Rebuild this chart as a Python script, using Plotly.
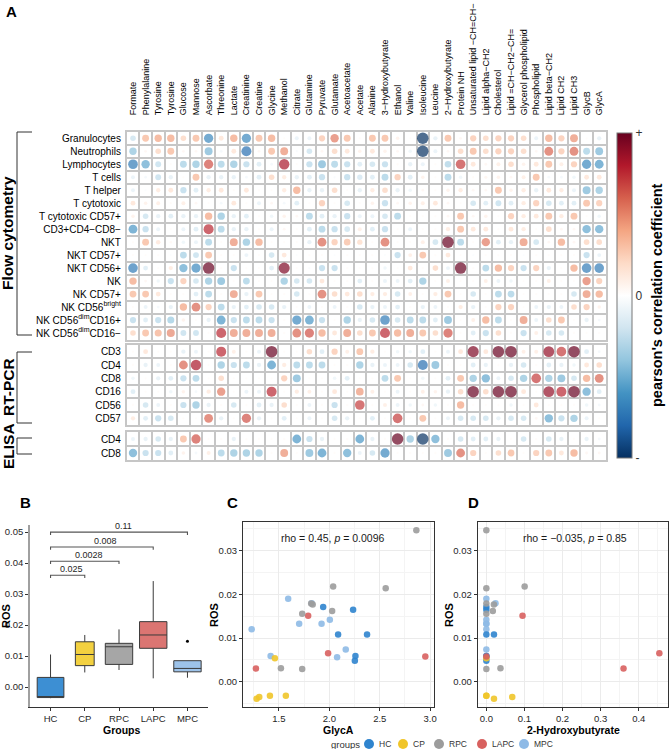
import plotly.graph_objects as go

W, H = 669, 749
FONT = "Liberation Sans, Arial, Helvetica, sans-serif"

# ---------------- Panel A : correlation matrix ----------------
metabolites = ["Formate", "Phenylalanine", "Tyrosine", "Tyrosine", "Glucose", "Mannose",
               "Ascorbate", "Threonine", "Lactate", "Creatinine", "Creatine", "Glycine",
               "Methanol", "Citrate", "Glutamine", "Pyruvate", "Glutamate", "Acetoacetate",
               "Acetate", "Alanine", "3−Hydroxybutyrate", "Ethanol", "Valine", "Isoleucine",
               "Leucine", "2−Hydroxybutyrate", "Protein NH", "Unsaturated lipid −CH=CH−",
               "Lipid alpha−CH2", "Cholesterol", "Lipid =CH−CH2−CH=", "Glycerol phospholipid",
               "Phospholipid", "Lipid beta−CH2", "Lipid CH2", "Lipid CH3", "GlycB", "GlycA"]

flow_cells = ["Granulocytes", "Neutrophils", "Lymphocytes", "T cells", "T helper", "T cytotoxic",
              "T cytotoxic CD57+", "CD3+CD4−CD8−", "NKT", "NKT CD57+", "NKT CD56+", "NK",
              "NK CD57+", "NK CD56<sup>bright</sup>", "NK CD56<sup>dim</sup>CD16+",
              "NK CD56<sup>dim</sup>CD16−"]
flow_r = [
    [-0.20, 0.30, 0.35, 0.35, 0.20, 0.30, -0.55, 0.15, 0.35, -0.55, 0.30, 0.35, 0.02, -0.10, -0.10, 0.25, 0.45, 0.30, 0.03, 0.30, 0.30, 0.08, 0.02, -0.90, -0.12, 0.30, 0.05, 0.25, 0.20, 0.25, 0.25, 0.20, -0.10, 0.35, 0.25, 0.40, 0.02, -0.12],
    [-0.35, 0.05, 0.20, 0.30, 0.05, 0.05, -0.40, -0.05, 0.15, -0.65, 0.05, 0.30, 0.40, -0.03, -0.20, 0.05, 0.20, 0.15, 0.08, 0.15, 0.08, 0.05, -0.08, -0.90, -0.10, 0.05, 0.20, 0.30, 0.20, 0.25, 0.25, 0.20, 0.05, 0.50, 0.25, 0.50, -0.30, -0.40],
    [-0.60, -0.45, -0.22, 0.02, -0.30, -0.35, 0.55, -0.30, -0.35, -0.25, -0.15, -0.05, 0.70, 0.02, -0.25, -0.40, -0.30, -0.25, -0.15, -0.20, -0.25, 0.03, -0.12, -0.10, 0.02, -0.28, 0.60, 0.15, 0.05, 0.10, 0.20, 0.08, 0.15, 0.30, 0.10, 0.25, -0.55, -0.50],
    [-0.10, -0.05, -0.22, -0.12, 0.02, 0.30, -0.12, -0.12, -0.12, -0.05, -0.15, 0.20, 0.12, -0.12, -0.15, -0.25, -0.03, -0.25, -0.18, -0.15, -0.30, 0.25, -0.15, 0.08, 0.02, -0.30, -0.08, 0.03, 0.06, 0.08, 0.05, 0.10, 0.30, -0.05, -0.05, -0.08, 0.15, 0.15],
    [-0.10, -0.02, 0.12, 0.15, -0.25, -0.15, 0.12, 0.15, 0.03, 0.15, 0.02, 0.02, 0.12, 0.35, -0.12, -0.12, 0.20, 0.02, -0.12, 0.12, 0.20, -0.12, -0.08, 0.05, 0.02, 0.08, 0.12, 0.05, 0.05, 0.30, 0.08, 0.12, -0.12, 0.15, 0.12, -0.10, -0.40, -0.35],
    [0.15, 0.08, 0.10, 0.03, 0.10, 0.05, 0.02, -0.05, 0.15, 0.02, -0.10, 0.05, -0.05, -0.15, 0.02, 0.25, 0.02, -0.20, 0.02, 0.08, -0.25, 0.05, 0.08, 0.10, 0.15, 0.05, 0.02, -0.20, -0.15, -0.22, -0.15, 0.12, 0.25, -0.20, -0.15, -0.15, 0.30, 0.25],
    [0.08, -0.20, -0.12, -0.15, -0.12, -0.12, 0.35, -0.35, -0.12, -0.15, 0.02, -0.08, 0.08, 0.05, -0.30, -0.15, -0.12, -0.25, -0.10, -0.10, -0.20, -0.30, 0.02, 0.02, 0.02, 0.05, 0.30, 0.05, 0.08, 0.02, 0.25, 0.12, 0.15, 0.30, 0.12, 0.30, 0.02, -0.08],
    [-0.50, -0.25, -0.10, 0.02, -0.10, -0.15, 0.65, -0.30, -0.12, -0.12, 0.02, -0.10, 0.05, 0.02, -0.15, -0.30, -0.25, -0.20, 0.10, -0.15, -0.25, 0.02, -0.10, 0.02, 0.02, 0.12, 0.30, 0.15, 0.15, 0.02, 0.15, 0.12, 0.02, 0.20, 0.05, 0.05, -0.45, -0.45],
    [0.02, 0.30, 0.13, 0.04, -0.08, -0.10, -0.30, 0.02, 0.40, -0.35, 0.35, 0.02, 0.02, 0.02, -0.12, 0.50, 0.25, 0.28, 0.18, 0.02, 0.50, 0.02, 0.02, 0.10, -0.20, 0.90, -0.30, 0.02, 0.45, -0.15, -0.12, 0.40, -0.20, 0.05, 0.35, 0.05, 0.20, 0.20],
    [0.02, 0.02, 0.02, -0.02, -0.30, -0.22, 0.30, 0.02, 0.02, -0.10, 0.02, -0.20, 0.15, -0.02, 0.02, 0.02, -0.02, 0.02, 0.02, 0.02, -0.02, -0.25, 0.10, 0.30, 0.02, 0.15, 0.02, -0.02, 0.02, 0.02, 0.02, -0.02, 0.02, 0.02, 0.02, 0.02, -0.25, -0.10],
    [-0.60, -0.15, 0.02, 0.12, -0.45, -0.55, 0.95, 0.02, -0.25, 0.02, 0.02, -0.15, 0.80, 0.02, -0.03, -0.25, -0.25, 0.02, 0.02, 0.02, -0.08, 0.02, 0.15, 0.02, 0.20, -0.10, 0.85, 0.02, -0.30, 0.35, 0.25, -0.25, 0.25, -0.12, 0.02, 0.35, -0.60, -0.60],
    [0.35, 0.05, -0.08, -0.25, 0.25, -0.20, -0.35, -0.40, 0.02, -0.30, 0.02, 0.02, -0.35, -0.20, -0.20, 0.15, 0.02, 0.02, -0.15, 0.02, -0.10, -0.10, -0.15, -0.35, 0.02, 0.10, 0.02, 0.02, 0.10, -0.10, -0.08, 0.02, 0.02, 0.10, 0.02, 0.02, 0.45, 0.25],
    [0.30, 0.30, 0.15, 0.02, 0.02, -0.15, -0.30, 0.02, 0.40, -0.12, 0.30, 0.02, 0.02, -0.20, 0.02, 0.50, 0.20, 0.15, 0.20, 0.12, 0.12, -0.20, 0.10, 0.02, 0.12, 0.30, 0.02, -0.20, 0.02, -0.30, -0.30, 0.02, 0.02, 0.02, 0.02, -0.20, 0.40, 0.35],
    [0.02, -0.10, -0.05, -0.12, 0.35, 0.50, 0.25, -0.30, -0.12, -0.15, -0.20, -0.20, -0.12, 0.02, -0.10, 0.02, -0.10, 0.02, -0.20, -0.12, -0.10, -0.15, 0.02, -0.12, -0.10, 0.02, 0.12, -0.12, 0.02, 0.25, 0.25, 0.02, -0.10, -0.12, -0.10, 0.20, 0.25, 0.08],
    [-0.25, -0.15, -0.25, -0.32, 0.08, 0.02, -0.12, -0.50, -0.25, -0.30, -0.30, -0.25, 0.02, -0.55, -0.50, -0.25, 0.02, -0.35, -0.12, -0.20, -0.60, -0.20, -0.30, -0.30, -0.15, -0.40, 0.02, 0.10, 0.35, -0.30, 0.02, 0.40, -0.10, 0.20, 0.30, 0.02, -0.12, -0.05],
    [0.20, 0.30, 0.32, 0.42, -0.22, -0.22, 0.02, 0.65, 0.40, 0.40, 0.40, 0.40, 0.02, 0.50, 0.55, 0.35, 0.15, 0.40, 0.20, 0.30, 0.65, 0.35, 0.40, 0.30, 0.20, 0.55, 0.02, -0.15, -0.25, 0.20, 0.02, -0.25, 0.10, -0.20, -0.20, 0.02, 0.02, 0.02],
]

rtpcr_genes = ["CD3", "CD4", "CD8", "CD16", "CD56", "CD57"]
rtpcr_r = [
    [0.02, 0.15, 0.02, 0.02, -0.12, -0.10, 0.02, 0.65, 0.10, 0.02, -0.10, 0.90, 0.02, 0.02, 0.20, -0.15, 0.25, 0.10, 0.30, 0.12, 0.02, -0.08, -0.08, -0.15, 0.02, -0.10, 0.15, 0.80, 0.15, 0.85, 0.85, 0.10, 0.10, 0.75, 0.60, 0.90, -0.15, -0.05],
    [0.02, -0.12, -0.10, 0.02, 0.50, 0.70, 0.02, -0.35, -0.25, -0.30, -0.12, -0.50, 0.12, -0.30, -0.30, -0.30, 0.02, 0.02, -0.35, -0.12, -0.10, -0.10, -0.20, -0.65, -0.40, 0.02, 0.02, -0.15, -0.12, 0.02, -0.12, -0.20, 0.02, -0.15, -0.12, -0.08, 0.15, 0.20],
    [-0.08, 0.02, -0.12, -0.15, -0.25, -0.30, 0.02, 0.20, 0.02, 0.02, 0.02, 0.02, 0.25, -0.40, 0.02, 0.02, -0.08, -0.15, 0.02, 0.02, -0.30, 0.30, 0.02, -0.08, 0.02, -0.15, 0.30, -0.35, -0.45, -0.10, -0.20, -0.35, 0.60, -0.35, -0.40, -0.20, 0.35, 0.50],
    [-0.15, 0.02, 0.02, -0.08, 0.08, -0.05, 0.12, 0.45, 0.02, -0.10, -0.10, 0.65, 0.02, 0.12, 0.10, 0.02, 0.15, 0.02, 0.38, 0.10, 0.02, -0.10, 0.02, 0.10, 0.08, -0.12, 0.20, 0.85, 0.20, 0.85, 0.90, 0.15, 0.02, 0.75, 0.65, 0.95, -0.45, -0.15],
    [0.02, -0.20, -0.10, 0.02, -0.25, -0.35, -0.12, 0.02, -0.20, 0.02, -0.15, -0.12, 0.20, 0.02, -0.10, 0.02, -0.25, 0.02, 0.60, 0.02, 0.10, -0.10, -0.08, 0.05, -0.08, 0.02, 0.35, 0.02, 0.02, 0.02, -0.08, 0.02, 0.15, 0.02, 0.02, 0.02, -0.08, -0.05],
    [0.12, -0.15, -0.25, -0.20, 0.02, 0.02, 0.50, -0.12, 0.02, 0.55, -0.12, 0.02, -0.15, 0.02, -0.10, 0.02, -0.20, -0.12, 0.02, -0.15, 0.02, 0.60, 0.02, 0.30, 0.02, -0.10, -0.20, -0.20, -0.20, -0.12, -0.20, -0.20, 0.05, -0.45, -0.25, -0.35, -0.10, 0.02],
]

elisa_markers = ["CD4", "CD8"]
elisa_r = [
    [-0.10, -0.12, -0.20, -0.12, 0.30, 0.55, 0.02, 0.02, -0.12, 0.02, 0.02, 0.02, 0.02, -0.50, -0.25, -0.12, 0.02, 0.02, -0.50, -0.12, 0.02, 0.95, -0.35, -0.95, -0.45, 0.02, -0.20, -0.15, -0.15, -0.12, 0.02, -0.20, 0.02, -0.20, -0.12, 0.02, -0.12, -0.05],
    [-0.45, -0.25, -0.25, -0.15, 0.08, -0.05, 0.10, -0.30, -0.35, -0.35, -0.35, 0.02, 0.40, 0.02, -0.40, -0.50, 0.02, -0.45, -0.10, -0.20, -0.55, 0.02, 0.02, 0.02, 0.02, -0.40, 0.50, 0.25, 0.02, 0.20, 0.30, 0.02, 0.25, 0.30, 0.15, 0.35, 0.05, 0.05],
]

# ---------------- Panel B : ROS box plot (summary statistics) ----------------
box_groups = ["HC", "CP", "RPC", "LAPC", "MPC"]
ros_lower = [-0.0036, 0.0047, 0.0055, 0.0028, 0.0030]
ros_q1 = [-0.0034, 0.0069, 0.0073, 0.0125, 0.0049]
ros_median = [-0.0031, 0.0105, 0.0130, 0.0168, 0.0060]
ros_q3 = [0.0031, 0.0146, 0.0141, 0.0211, 0.0085]
ros_upper = [0.0105, 0.0168, 0.0186, 0.0342, 0.0085]
ros_outlier_group = ["MPC"]
ros_outlier_value = [0.0148]
cmp_group = ["CP", "RPC", "LAPC", "MPC"]
cmp_height = [0.0361, 0.0406, 0.0452, 0.0500]
cmp_p = ["0.025", "0.0028", "0.008", "0.11"]

# ---------------- Panels C and D : samples ----------------
sample_group = (["HC"] * 6 + ["CP"] * 5 + ["RPC"] * 9 + ["LAPC"] * 4 + ["MPC"] * 9)
sample_ros = [0.0171, 0.0165, 0.0108, 0.0108, 0.0059, 0.0048,
              0.0054, -0.0039, -0.0035, -0.0032, -0.0032,
              0.0347, 0.0218, 0.0214, 0.0179, 0.0177, 0.0162, 0.0156, 0.0031, 0.0029,
              0.0151, 0.0065, 0.0030, 0.0058,
              0.0190, 0.0180, 0.0142, 0.0133, 0.0133, 0.0120, 0.0074, 0.0059, 0.0056]
sample_glyca = [1.939, 2.236, 2.087, 2.374, 2.259, 2.253,
                1.460, 1.279, 1.305, 1.411, 1.569,
                2.863, 2.038, 2.559, 1.820, 1.835, 2.028, 1.731, 1.520, 1.731,
                1.790, 1.988, 1.272, 2.952,
                1.592, 1.825, 2.005, 1.701, 1.923, 1.230, 2.163, 1.418, 2.077]
sample_hb2 = [0.0, 0.0, 0.0, 0.020, 0.0, 0.0,
              0.0, 0.020, 0.068, 0.0, 0.0,
              0.0, 0.1005, 0.0, 0.0, 0.0198, 0.017, 0.0, 0.037, 0.0,
              0.095, 0.454, 0.360, 0.0,
              0.0, 0.024, 0.0, 0.0, 0.0, 0.0, 0.0, 0.0, 0.0]
rho_c = "rho = 0.45, <i>p</i> = 0.0096"
rho_d = "rho = −0.035, <i>p</i> = 0.85"

# ---------------- styling ----------------
point_colors = {"HC": "#2F84CE", "CP": "#F0C52A", "RPC": "#9C9C9C", "LAPC": "#D8615F", "MPC": "#8EBAE6"}
box_fill = {"HC": "#3D8FD3", "CP": "#F3D140", "RPC": "#A6A6A6", "LAPC": "#DB7572", "MPC": "#9DC3EA"}
box_width = {"HC": 0.78, "CP": 0.55, "RPC": 0.8, "LAPC": 0.8, "MPC": 0.8}
legend_key_x = [369, 403, 439, 482, 524]  # pixel positions of the legend keys
RDBU = [[0.0, "#053061"], [0.1, "#2166AC"], [0.2, "#4393C3"], [0.3, "#92C5DE"], [0.4, "#D1E5F0"],
        [0.5, "#FFFFFF"], [0.6, "#FDDBC7"], [0.7, "#F4A582"], [0.8, "#D6604D"], [0.9, "#B2182B"],
        [1.0, "#67001F"]]
SCALE = 0.85
GRID = "#C6C6C6"


def px(x):
    return x / W


def py(y):
    return 1 - y / H


fig = go.Figure()

# heatmap blocks
blocks = [(flow_cells, flow_r, "x", "y", True),
          (rtpcr_genes, rtpcr_r, "x2", "y2", False),
          (elisa_markers, elisa_r, "x3", "y3", False)]
for labels, mat, xa, ya, cb in blocks:
    xs, ys, vs, ss = [], [], [], []
    for i, row in enumerate(mat):
        assert len(row) == len(metabolites)
        for j, v in enumerate(row):
            xs.append(j)
            ys.append(i)
            vs.append(v)
            ss.append(max(2.3, 11.5 * min(1.0, abs(v) / SCALE) ** 0.5))
    marker = dict(size=ss, color=vs, colorscale=RDBU, cmin=-SCALE, cmax=SCALE,
                  line=dict(width=0), showscale=cb)
    if cb:
        marker["colorbar"] = dict(x=px(617), xanchor="left", xpad=0, y=py(295.5), yanchor="middle",
                                  ypad=0, len=325 / H, lenmode="fraction", thickness=15,
                                  outlinewidth=1, outlinecolor="#777777",
                                  tickmode="array", tickvals=[-SCALE, 0, SCALE],
                                  ticktext=["-", "0", "+"], ticks="",
                                  tickfont=dict(size=12, color="#333333", family=FONT))
    fig.add_trace(go.Scatter(x=xs, y=ys, mode="markers", marker=marker, xaxis=xa, yaxis=ya,
                             showlegend=False, hoverinfo="skip"))

# Panel B boxes
for k, g in enumerate(box_groups):
    fig.add_trace(go.Box(x=[k], q1=[ros_q1[k]], median=[ros_median[k]], q3=[ros_q3[k]],
                         lowerfence=[ros_lower[k]], upperfence=[ros_upper[k]],
                         width=box_width[g], fillcolor=box_fill[g],
                         line=dict(color="#3A3A3A", width=1), whiskerwidth=0,
                         boxpoints=False, xaxis="x4", yaxis="y4", showlegend=False,
                         hoverinfo="skip"))
fig.add_trace(go.Scatter(x=[box_groups.index(g) for g in ros_outlier_group], y=ros_outlier_value,
                         mode="markers", marker=dict(size=3, color="black"),
                         xaxis="x4", yaxis="y4", showlegend=False, hoverinfo="skip"))

# Panels C and D points
draw_order = ["MPC", "HC", "CP", "LAPC", "RPC"]
for g in draw_order:
    idx = [i for i, s in enumerate(sample_group) if s == g]
    for xa, ya, xv in (("x5", "y5", sample_glyca), ("x6", "y6", sample_hb2)):
        fig.add_trace(go.Scatter(x=[xv[i] for i in idx], y=[sample_ros[i] for i in idx],
                                 mode="markers", name=g, showlegend=False,
                                 marker=dict(size=6.5, color=point_colors[g], opacity=0.9,
                                             line=dict(width=0)),
                                 xaxis=xa, yaxis=ya, hoverinfo="skip"))

# ---------------- axes ----------------
n = len(metabolites)
x_dom = [px(126.7), px(605.5)]
x_common = dict(range=[-0.5, n - 0.5], domain=x_dom, showgrid=False, zeroline=False,
                minor=dict(tickmode="array", tickvals=[k - 0.5 for k in range(n + 1)],
                           showgrid=True, gridcolor=GRID, gridwidth=1.6, ticks=""),
                showline=True, mirror=True, linecolor=GRID, linewidth=1.6, automargin=False)


def y_axis(labels, top, bottom, anchor):
    m = len(labels)
    return dict(domain=[py(bottom), py(top)], anchor=anchor, range=[m - 0.5, -0.5],
                tickmode="array", tickvals=list(range(m)), ticktext=labels,
                showgrid=False, zeroline=False,
                minor=dict(tickmode="array", tickvals=[k - 0.5 for k in range(m + 1)],
                           showgrid=True, gridcolor=GRID, gridwidth=1.6, ticks=""),
                showline=True, mirror=True, linecolor=GRID, linewidth=1.6,
                ticks="outside", ticklen=2, tickcolor="rgba(0,0,0,0)",
                tickfont=dict(size=10, color="black", family=FONT), automargin=False)


tick_style = dict(ticks="outside", ticklen=3, tickwidth=1, tickcolor="#333333",
                  tickfont=dict(size=9.5, color="#262626", family=FONT), automargin=False,
                  zeroline=False)
bw_grid = dict(showgrid=True, gridcolor="#EBEBEB", gridwidth=1,
               showline=True, mirror=True, linecolor="#333333", linewidth=1)

fig.update_layout(
    width=W, height=H, margin=dict(l=0, r=0, t=0, b=0, autoexpand=False),
    template="none", paper_bgcolor="white", plot_bgcolor="white", showlegend=False,
    font=dict(family=FONT, color="black"),
    xaxis=dict(**x_common, anchor="y", side="top", tickmode="array", tickvals=list(range(n)),
               ticktext=metabolites, tickangle=-90, ticks="outside", ticklen=13,
               tickcolor="rgba(0,0,0,0)", tickfont=dict(size=9, color="black", family=FONT)),
    xaxis2=dict(**x_common, anchor="y2", matches="x", showticklabels=False, ticks=""),
    xaxis3=dict(**x_common, anchor="y3", matches="x", showticklabels=False, ticks=""),
    yaxis=y_axis(flow_cells, 131.8, 339.5, "x"),
    yaxis2=y_axis(rtpcr_genes, 345.0, 425.0, "x2"),
    yaxis3=y_axis(elisa_markers, 432.0, 460.0, "x3"),
    # Panel B
    xaxis4=dict(domain=[px(30), px(208)], anchor="y4", range=[-0.6, 4.6], tickmode="array",
                tickvals=list(range(len(box_groups))), ticktext=box_groups, showgrid=False,
                showline=True, linecolor="#333333", linewidth=1, **tick_style),
    yaxis4=dict(domain=[py(707), py(525)], anchor="x4", range=[-0.00645, 0.0523],
                tickmode="linear", tick0=0, dtick=0.01, tickformat=".2f", showgrid=False,
                showline=True, linecolor="#A0A0A0", linewidth=1.6, **tick_style),
    # Panel C
    xaxis5=dict(domain=[px(243), px(434)], anchor="y5", range=[1.144, 3.038], tickmode="linear",
                tick0=1.5, dtick=0.5, tickformat=".1f",
                minor=dict(dtick=0.25, tick0=1.25, showgrid=True, gridcolor="#F4F4F4", gridwidth=0.6),
                **bw_grid, **tick_style),
    yaxis5=dict(domain=[py(707), py(522)], anchor="x5", range=[-0.0058, 0.0366], tickmode="linear",
                tick0=0, dtick=0.01, tickformat=".2f",
                minor=dict(dtick=0.005, tick0=0.005, showgrid=True, gridcolor="#F4F4F4", gridwidth=0.6),
                **bw_grid, **tick_style),
    # Panel D
    xaxis6=dict(domain=[px(477.7), px(668)], anchor="y6", range=[-0.0227, 0.4767], tickmode="linear",
                tick0=0, dtick=0.1, tickformat=".1f",
                minor=dict(dtick=0.05, tick0=0.05, showgrid=True, gridcolor="#F4F4F4", gridwidth=0.6),
                **bw_grid, **tick_style),
    yaxis6=dict(domain=[py(707), py(522)], anchor="x6", range=[-0.0058, 0.0366], tickmode="linear",
                tick0=0, dtick=0.01, tickformat=".2f",
                minor=dict(dtick=0.005, tick0=0.005, showgrid=True, gridcolor="#F4F4F4", gridwidth=0.6),
                **bw_grid, **tick_style),
)

# ---------------- annotations ----------------
ann = []
shapes = []


def text(x, y, s, size, bold=False, angle=0, xanchor="center", yanchor="middle", color="black"):
    ann.append(dict(x=px(x), y=py(y), xref="paper", yref="paper", showarrow=False,
                    text=("<b>%s</b>" % s) if bold else s, textangle=angle,
                    xanchor=xanchor, yanchor=yanchor,
                    font=dict(size=size, color=color, family=FONT)))


text(11, 12, "A", 15, bold=True)
text(8, 233, "Flow cytometry", 15.5, bold=True, angle=-90)
text(8, 387, "RT-PCR", 15.5, bold=True, angle=-90)
text(8, 446, "ELISA", 15.5, bold=True, angle=-90)
text(657, 295, "pearson's correlation coefficient", 14.5, bold=True, angle=-90)
text(25, 503, "B", 15, bold=True)
text(232, 503, "C", 15, bold=True)
text(473, 503, "D", 15, bold=True)
text(6, 616, "ROS", 11, bold=True, angle=-90)
text(121, 730, "Groups", 10.5, bold=True)
text(214, 615, "ROS", 11, bold=True, angle=-90)
text(338.5, 730, "GlycA", 10.5, bold=True)
text(449, 615, "ROS", 11, bold=True, angle=-90)
text(573, 730, "2-Hydroxybutyrate", 10.5, bold=True)
text(333, 538, rho_c, 10.5, color="#1a1a1a")
text(575, 538, rho_d, 10.5, color="#1a1a1a")

# legend (drawn manually, ggplot style)
LEG_Y = 744
text(329, LEG_Y, "groups", 9.5, xanchor="left", color="#333333")
for g, cx in zip(box_groups, legend_key_x):
    shapes.append(dict(type="circle", xref="paper", yref="paper",
                       x0=px(cx - 5), x1=px(cx + 5), y0=py(LEG_Y + 5), y1=py(LEG_Y - 5),
                       fillcolor=point_colors[g], line=dict(width=0)))
    text(cx + 8, LEG_Y, g, 8.5, xanchor="left", color="#333333")

# significance labels for panel B
TIP = 0.0009
for g, h, p in zip(cmp_group, cmp_height, cmp_p):
    k = box_groups.index(g)
    shapes.append(dict(type="path", xref="x4", yref="y4",
                       path="M 0,%g L 0,%g L %g,%g L %g,%g" % (h - TIP, h, k, h, k, h - TIP),
                       line=dict(color="#555555", width=1.1)))
    ann.append(dict(x=k / 2, y=h, xref="x4", yref="y4", text=p, showarrow=False,
                    yanchor="bottom", xshift=4, yshift=-1,
                    font=dict(size=9, color="#262626", family=FONT)))

# group brackets for panel A
for top, bottom in ((132, 335), (352, 423), (438, 454)):
    for (x0, y0, x1, y1) in ((17, top, 17, bottom), (17, top, 32, top), (17, bottom, 32, bottom)):
        shapes.append(dict(type="line", xref="paper", yref="paper",
                           x0=px(x0), y0=py(y0), x1=px(x1), y1=py(y1),
                           line=dict(color="#333333", width=1)))

fig.update_layout(annotations=ann, shapes=shapes)
fig.write_html("out.html")
